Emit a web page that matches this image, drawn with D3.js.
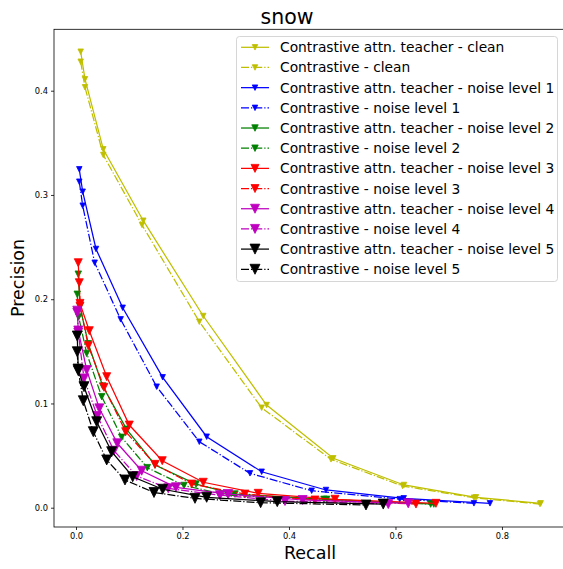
<!DOCTYPE html>
<html>
<head>
<meta charset="utf-8">
<script src="https://cdn.jsdelivr.net/npm/d3@7"></script>
<style>
  html, body { margin: 0; padding: 0; background: #fff; }
  svg { display: block; font-family: "DejaVu Sans", sans-serif; }
</style>
</head>
<body>
<svg id="chart" width="563" height="569"></svg>
<script>
// Precision/recall curves, one pair of arrays per series
const teacherCleanRecall    = [0.0088, 0.0169, 0.0513, 0.1264, 0.2390, 0.3580, 0.4832, 0.6160, 0.7512, 0.8727];
const teacherCleanPrecision = [0.4374, 0.4110, 0.3438, 0.2753, 0.1839, 0.0985, 0.0474, 0.0218, 0.0100, 0.0042];
const contrCleanRecall      = [0.0088, 0.0169, 0.0513, 0.1240, 0.2316, 0.3487, 0.4789, 0.6135, 0.7474, 0.8714];
const contrCleanPrecision   = [0.4278, 0.4033, 0.3383, 0.2712, 0.1784, 0.0959, 0.0464, 0.0208, 0.0096, 0.0035];

const teacherN1Recall    = [0.0062, 0.0126, 0.0376, 0.0877, 0.1628, 0.2454, 0.3487, 0.4695, 0.6155, 0.7775];
const teacherN1Precision = [0.3246, 0.3031, 0.2482, 0.1918, 0.1251, 0.0681, 0.0345, 0.0170, 0.0090, 0.0042];
const contrN1Recall      = [0.0062, 0.0126, 0.0351, 0.0839, 0.1515, 0.2316, 0.3268, 0.4426, 0.6080, 0.7474];
const contrN1Precision   = [0.3127, 0.2897, 0.2350, 0.1807, 0.1161, 0.0633, 0.0330, 0.0163, 0.0082, 0.0042];

const teacherN2Recall    = [0.0043, 0.0075, 0.0231, 0.0501, 0.0952, 0.1484, 0.2254, 0.2986, 0.4708, 0.6720];
const teacherN2Precision = [0.2240, 0.1930, 0.1573, 0.1167, 0.0752, 0.0410, 0.0227, 0.0131, 0.0080, 0.0035];
const contrN2Recall      = [0.0024, 0.0050, 0.0201, 0.0483, 0.0858, 0.1339, 0.2028, 0.2854, 0.4657, 0.6661];
const contrN2Precision   = [0.2047, 0.1830, 0.1480, 0.1065, 0.0675, 0.0384, 0.0213, 0.0120, 0.0080, 0.0035];

const teacherN3Recall    = [0.0043, 0.0075, 0.0250, 0.0577, 0.1001, 0.1620, 0.2390, 0.3423, 0.4864, 0.6760];
const teacherN3Precision = [0.2350, 0.1960, 0.1698, 0.1257, 0.0793, 0.0451, 0.0244, 0.0138, 0.0081, 0.0042];
const contrN3Recall      = [0.0062, 0.0075, 0.0231, 0.0526, 0.0933, 0.1484, 0.2173, 0.3174, 0.4488, 0.6385];
const contrN3Precision   = [0.2158, 0.1935, 0.1554, 0.1155, 0.0729, 0.0416, 0.0227, 0.0131, 0.0074, 0.0035];

const teacherN4Recall    = [0.0024, 0.0043, 0.0201, 0.0438, 0.0776, 0.1234, 0.1878, 0.2860, 0.4257, 0.6240];
const teacherN4Precision = [0.1890, 0.1700, 0.1321, 0.0953, 0.0618, 0.0355, 0.0196, 0.0131, 0.0074, 0.0042];
const contrN4Recall      = [0.0024, 0.0043, 0.0150, 0.0400, 0.0714, 0.1140, 0.1733, 0.2704, 0.3925, 0.5865];
const contrN4Precision   = [0.1870, 0.1680, 0.1240, 0.0880, 0.0547, 0.0304, 0.0186, 0.0120, 0.0064, 0.0035];

const teacherN5Recall    = [0.0024, 0.0043, 0.0150, 0.0389, 0.0670, 0.1065, 0.1628, 0.2454, 0.3780, 0.5770];
const teacherN5Precision = [0.1647, 0.1314, 0.1161, 0.0825, 0.0537, 0.0297, 0.0177, 0.0100, 0.0058, 0.0035];
const contrN5Recall      = [0.0024, 0.0038, 0.0137, 0.0325, 0.0577, 0.0920, 0.1465, 0.2235, 0.3468, 0.5446];
const contrN5Precision   = [0.1496, 0.1330, 0.1026, 0.0729, 0.0458, 0.0266, 0.0146, 0.0090, 0.0048, 0.0026];

const seriesLabels = [
  "Contrastive attn. teacher - clean",
  "Contrastive - clean",
  "Contrastive attn. teacher - noise level 1",
  "Contrastive - noise level 1",
  "Contrastive attn. teacher - noise level 2",
  "Contrastive - noise level 2",
  "Contrastive attn. teacher - noise level 3",
  "Contrastive - noise level 3",
  "Contrastive attn. teacher - noise level 4",
  "Contrastive - noise level 4",
  "Contrastive attn. teacher - noise level 5",
  "Contrastive - noise level 5"
];
const xTicks = [0.0, 0.2, 0.4, 0.6, 0.8];
const yTicks = [0.0, 0.1, 0.2, 0.3, 0.4];

// colour and marker size per noise level (clean, 1..5)
const levelColors = ["#bfbf00", "#0000ff", "#008000", "#ff0000", "#bf00bf", "#000000"];
const levelMarker = [5.5, 5.5, 6.5, 8, 9, 10];

const series = [
  [teacherCleanRecall, teacherCleanPrecision], [contrCleanRecall, contrCleanPrecision],
  [teacherN1Recall, teacherN1Precision], [contrN1Recall, contrN1Precision],
  [teacherN2Recall, teacherN2Precision], [contrN2Recall, contrN2Precision],
  [teacherN3Recall, teacherN3Precision], [contrN3Recall, contrN3Precision],
  [teacherN4Recall, teacherN4Precision], [contrN4Recall, contrN4Precision],
  [teacherN5Recall, teacherN5Precision], [contrN5Recall, contrN5Precision]
].map(([r, p], i) => ({
  label: seriesLabels[i],
  color: levelColors[Math.floor(i / 2)],
  size: levelMarker[Math.floor(i / 2)],
  dashed: i % 2 === 1,
  points: r.map((v, k) => [v, p[k]])
}));

const svg = d3.select("#chart");
const plotLeft = 54, plotRight = 565.7, plotTop = 29.3, plotBottom = 527;
const x = d3.scaleLinear().domain([-0.0413, 0.9197]).range([plotLeft, plotRight]);
const y = d3.scaleLinear().domain([-0.0185, 0.4589]).range([plotBottom, plotTop]);

const dashPattern = "8,2,1.25,2";
const tri = s => `M${-s/2},${-s/2}L${s/2},${-s/2}L0,${s/2}Z`;

svg.append("defs").append("clipPath").attr("id", "plotClip")
  .append("rect").attr("x", plotLeft).attr("y", plotTop)
  .attr("width", plotRight - plotLeft).attr("height", plotBottom - plotTop);

const plot = svg.append("g").attr("clip-path", "url(#plotClip)");
const line = d3.line().x(d => x(d[0])).y(d => y(d[1]));

series.forEach(s => {
  const g = plot.append("g");
  g.append("path")
    .attr("d", line(s.points))
    .attr("fill", "none")
    .attr("stroke", s.color)
    .attr("stroke-width", 1.25)
    .attr("stroke-dasharray", s.dashed ? dashPattern : null);
  g.selectAll("path.m").data(s.points).enter().append("path")
    .attr("class", "m")
    .attr("d", tri(s.size))
    .attr("transform", d => `translate(${x(d[0])},${y(d[1])})`)
    .attr("fill", s.color)
    .attr("stroke", s.color)
    .attr("stroke-width", 0.8);
});

// axes
const xAxis = d3.axisBottom(x).tickValues(xTicks).tickFormat(d3.format(".1f")).tickSize(3).tickPadding(3);
const yAxis = d3.axisLeft(y).tickValues(yTicks).tickFormat(d3.format(".1f")).tickSize(3).tickPadding(3);
const gx = svg.append("g").attr("transform", `translate(0,${plotBottom})`).call(xAxis);
const gy = svg.append("g").attr("transform", `translate(${plotLeft},0)`).call(yAxis);
[gx, gy].forEach(g => {
  g.select(".domain").remove();
  g.selectAll("text").attr("font-size", 8.3).attr("fill", "#000").attr("font-family", "DejaVu Sans");
  g.selectAll("line").attr("stroke", "#000").attr("stroke-width", 0.8);
});

// frame
svg.append("rect").attr("x", plotLeft).attr("y", plotTop)
  .attr("width", plotRight - plotLeft).attr("height", plotBottom - plotTop)
  .attr("fill", "none").attr("stroke", "#000").attr("stroke-width", 0.8);

// titles
svg.append("text").attr("x", 287).attr("y", 24).attr("text-anchor", "middle")
  .attr("font-size", 20.5).text("snow");
svg.append("text").attr("x", 310).attr("y", 559).attr("text-anchor", "middle")
  .attr("font-size", 17.5).text("Recall");
svg.append("text").attr("transform", "translate(24,278) rotate(-90)").attr("text-anchor", "middle")
  .attr("font-size", 17.5).text("Precision");

// legend
const lg = svg.append("g");
lg.append("rect").attr("x", 236.5).attr("y", 36.5).attr("width", 321).attr("height", 245).attr("rx", 3)
  .attr("fill", "#fff").attr("fill-opacity", 0.8).attr("stroke", "#cccccc").attr("stroke-width", 0.8);
series.forEach((s, i) => {
  const cy = 47.3 + i * 20.18;
  lg.append("line").attr("x1", 241).attr("x2", 269).attr("y1", cy).attr("y2", cy)
    .attr("stroke", s.color).attr("stroke-width", 1.25)
    .attr("stroke-dasharray", s.dashed ? dashPattern : null);
  lg.append("path").attr("d", tri(s.size)).attr("transform", `translate(255,${cy})`)
    .attr("fill", s.color).attr("stroke", s.color).attr("stroke-width", 0.8);
  lg.append("text").attr("x", 280).attr("y", cy + 5).attr("font-size", 13.8).text(s.label);
});
</script>
</body>
</html>
